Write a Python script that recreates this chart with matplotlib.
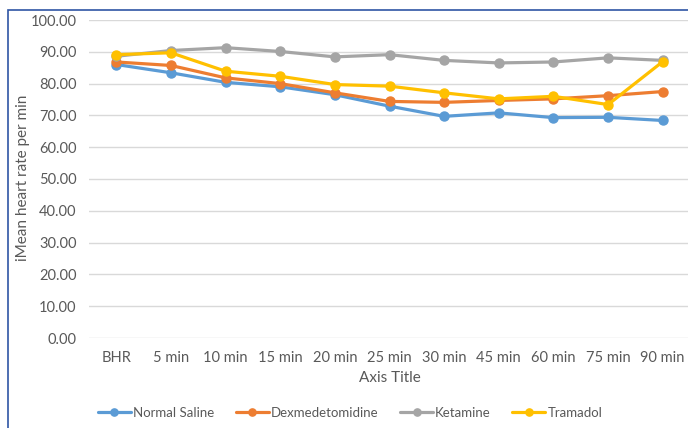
import matplotlib.pyplot as plt
from matplotlib.patches import Rectangle

plt.rcParams['font.family'] = ['Lato', 'DejaVu Sans']

# Mean heart rate over time for each group
times = ["BHR", "5 min", "10 min", "15 min", "20 min", "25 min",
         "30 min", "45 min", "60 min", "75 min", "90 min"]
normal_saline = [86.0, 83.4, 80.4, 79.0, 76.5, 72.9, 69.7, 70.8, 69.3, 69.4, 68.4]
dexmedetomidine = [86.8, 85.7, 81.8, 80.0, 77.1, 74.4, 74.1, 74.7, 75.2, 76.2, 77.5]
ketamine = [88.6, 90.4, 91.3, 90.1, 88.4, 89.1, 87.3, 86.5, 86.8, 88.1, 87.3]
tramadol = [89.1, 89.7, 83.9, 82.3, 79.7, 79.2, 77.1, 75.2, 76.0, 73.4, 86.9]

series = [
    ("Normal Saline", normal_saline, "#5B9BD5"),
    ("Dexmedetomidine", dexmedetomidine, "#ED7D31"),
    ("Ketamine", ketamine, "#A5A5A5"),
    ("Tramadol", tramadol, "#FFC000"),
]

fig = plt.figure(figsize=(6.88, 4.28), dpi=100, facecolor='white')
ax = fig.add_axes([89 / 688, 90 / 428, 601 / 688, 318 / 428])

x = list(range(len(times)))
for name, vals, col in series:
    ax.plot(x, vals, color=col, lw=2.3, marker='o', ms=6.5, label=name,
            solid_capstyle='round', clip_on=False)

ax.set_xlim(-0.5, len(times) - 0.5)
ax.set_ylim(0, 100)
ax.set_yticks(range(0, 101, 10))
ax.set_yticklabels([f"{v:.2f}" for v in range(0, 101, 10)])
ax.set_xticks(x)
ax.set_xticklabels(times)
ax.tick_params(axis='both', length=0, labelsize=10.5, colors='#595959')
ax.tick_params(axis='y', pad=9)
ax.tick_params(axis='x', pad=9)
ax.grid(axis='y', color='#D9D9D9', lw=1)
ax.set_axisbelow(True)
for s in ax.spines.values():
    s.set_visible(False)

ax.set_ylabel("iMean heart rate per min", fontsize=11, color='#595959')
ax.yaxis.set_label_coords(-59 / 601, 0.505)
ax.set_xlabel("Axis Title", fontsize=11, color='#595959', labelpad=5)

fig.legend(loc='center', bbox_to_anchor=(350 / 688, 1 - 413 / 428), ncol=4,
           frameon=False, fontsize=9.5, handlelength=2.5, handletextpad=0.15,
           columnspacing=1.65, labelcolor='#595959', markerscale=0.8)

# thin blue frame around the chart
fig.add_artist(Rectangle((8 / 688, -0.1), 1.2, 0.1 + (428 - 10) / 428,
                         transform=fig.transFigure, fill=False,
                         edgecolor='#2F55A4', lw=1.2))

fig.savefig("out.png", dpi=100)
